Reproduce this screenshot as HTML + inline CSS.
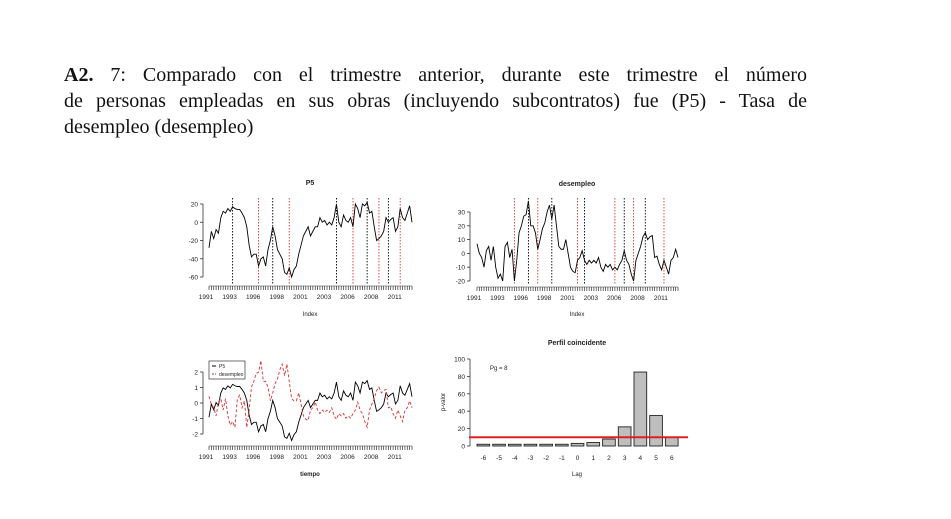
<!DOCTYPE html>
<html><head><meta charset="utf-8">
<style>
body{margin:0;width:951px;height:519px;background:#fff;overflow:hidden;position:relative;font-family:"Liberation Serif",serif;}
.ln{position:absolute;left:64px;width:743px;font-size:20px;line-height:26px;white-space:nowrap;color:#111;font-family:"Liberation Serif",serif;}
.j{text-align:justify;text-align-last:justify;}
svg{position:absolute;left:0;top:0;}
svg text{font-family:"Liberation Sans",sans-serif;fill:#222;}
</style></head><body>
<div class="ln j" style="top:62px"><b>A2.</b> 7: Comparado con el trimestre anterior, durante este trimestre el número</div>
<div class="ln j" style="top:88px">de personas empleadas en sus obras (incluyendo subcontratos) fue (P5) - Tasa de</div>
<div class="ln" style="top:114px">desempleo (desempleo)</div>
<svg id="s" width="951" height="519"></svg>
<script>
const p5=[-28,-10,-18,-8,-12,5,12,10,15,12,17,15,14,14,10,5,-5,-25,-38,-35,-35,-48,-40,-38,-48,-30,-20,-5,-15,-30,-35,-40,-55,-57,-50,-60,-52,-48,-35,-25,-15,-10,-5,-15,-10,-5,-5,5,0,2,-3,0,-3,5,20,0,-5,8,2,0,5,-5,20,15,5,20,18,22,10,12,-5,-20,-18,-15,-10,5,0,3,5,-10,-5,15,5,2,10,18,0];
const desem=[7,0,-3,-10,2,5,-5,5,-10,-18,-15,-20,5,8,-3,3,-20,-5,15,20,27,28,38,20,20,15,3,10,18,22,30,35,25,35,20,5,3,3,10,0,-10,-13,-14,-5,-3,2,-5,-8,-5,-7,-5,-7,-3,-10,-13,-8,-10,-8,-12,-10,-12,-8,-5,2,-5,-8,-15,-20,-5,0,5,12,15,10,12,13,-3,-2,-8,-12,-5,-10,-15,-5,-3,3,-3];
const yearLabels=["1991","1993","1996","1998","2001","2003","2006","2008","2011"];
const p5Black=[10,27,54,67,76];
const p5Red=[21,34,61,72,81];
const dBlack=[22,32,46,63,72];
const dRed=[16,26,43,59,67,80];
const lags=["-6","-5","-4","-3","-2","-1","0","1","2","3","4","5","6"];
const pvals=[2,2,2,2,2,2,3,4,8,22,85,35,10];
const pThreshold=10;

const S=document.getElementById('s');
const NS='http://www.w3.org/2000/svg';
function mk(t,a,txt){const e=document.createElementNS(NS,t);for(const k in a)e.setAttribute(k,a[k]);if(txt!==undefined)e.textContent=txt;S.appendChild(e);return e;}
function txt(x,y,s,o){o=o||{};const e=mk('text',{x:x,y:y,'font-size':o.fs||7,'text-anchor':o.a||'middle','font-weight':o.b?'bold':'normal'},s);if(o.rot)e.setAttribute('transform','rotate(-90 '+x+' '+y+')');return e;}

function timePanel(cfg){
  const n=cfg.series[0].length;
  const X=i=>cfg.x0+(cfg.x1-cfg.x0)*i/(n-1);
  const Y=v=>cfg.y0+(v-cfg.v0)*(cfg.y1-cfg.y0)/(cfg.v1-cfg.v0);
  let a=mk('line',{x1:cfg.ax,x2:cfg.ax,y1:Y(cfg.ticks[cfg.ticks.length-1]),y2:Y(cfg.ticks[0]),stroke:'#333','stroke-width':0.8});
  
  cfg.ticks.forEach(t=>{mk('line',{x1:cfg.ax-3,x2:cfg.ax,y1:Y(t),y2:Y(t),stroke:'#333','stroke-width':0.8});
    const l=txt(cfg.ax-5,Y(t)+2.5,String(t),{a:'end',fs:6.5});});
  const ty=cfg.tickY;
  mk('line',{x1:X(0),x2:X(n-1),y1:ty,y2:ty,stroke:'#333','stroke-width':0.6});
  for(let i=0;i<n;i++)mk('line',{x1:X(i),x2:X(i),y1:ty,y2:ty+4,stroke:'#333','stroke-width':0.7});
  const lx0=cfg.x0-3,lstep=(0.915*(cfg.x1-cfg.x0)+3)/8;
  yearLabels.forEach((s,k)=>{const l=txt(lx0+k*lstep,ty+13,s,{fs:6.5});});
  (cfg.vl||[]).forEach(v=>{v.idx.forEach(i=>{const l=mk('line',{x1:X(i),x2:X(i),y1:cfg.vt,y2:ty-2,stroke:v.c,'stroke-width':0.9,'stroke-dasharray':'1.5,1.5'});});});
  cfg.series.forEach((s,k)=>{const p=mk('polyline',{points:s.map((v,i)=>X(i)+','+Y(v)).join(' '),fill:'none',stroke:cfg.colors[k],'stroke-width':0.9,'stroke-dasharray':cfg.dash[k]});
    });
  if(cfg.title){const t=txt(cfg.tx,cfg.ty,cfg.title,{b:true,fs:7});}
  const xl=txt(cfg.tx,cfg.xly,cfg.xlab,{fs:6,b:cfg.xlb});
}
timePanel({name:'p5',series:[p5],colors:['#000'],dash:[''],x0:209,x1:412,v0:20,v1:-60,y0:204,y1:277,ax:203,ticks:[-60,-40,-20,0,20],tickY:286,
  vl:[{idx:p5Black,c:'#000'},{idx:p5Red,c:'#d33'}],vt:198,title:'P5',tx:310,ty:185,xlab:'Index',xly:316});
timePanel({name:'desempleo',series:[desem],colors:['#000'],dash:[''],x0:477,x1:678,v0:30,v1:-20,y0:212,y1:281,ax:470,ticks:[-20,-10,0,10,20,30],tickY:287,
  vl:[{idx:dBlack,c:'#000'},{idx:dRed,c:'#d33'}],vt:198,title:'desempleo',tx:577,ty:186,xlab:'Index',xly:316});
function z(a){const m=a.reduce((s,v)=>s+v,0)/a.length;const sd=Math.sqrt(a.reduce((s,v)=>s+(v-m)*(v-m),0)/(a.length-1));return a.map(v=>(v-m)/sd);}
timePanel({name:'combined',series:[z(p5),z(desem)],colors:['#000','#d33'],dash:['','3,2'],x0:209,x1:412,v0:2,v1:-2,y0:372,y1:434,ax:203,ticks:[-2,-1,0,1,2],tickY:446,
  vl:[],vt:0,title:'',tx:310,ty:0,xlab:'tiempo',xly:476,xlb:true});
let lg=mk('rect',{x:209,y:361,width:36,height:18,fill:'#fff',stroke:'#333','stroke-width':0.7});
mk('line',{x1:212,x2:216,y1:366,y2:366,stroke:'#000'});let l1=txt(219,368,'P5',{a:'start',fs:5});
mk('line',{x1:212,x2:216,y1:374,y2:374,stroke:'#d33','stroke-dasharray':'2,1'});let l2=txt(219,376,'desempleo',{a:'start',fs:5});

(function(){
  const Y=v=>446-v*0.87;const pitch=15.7,bw=12.7,bx0=477;
  const ya=mk('line',{x1:470,x2:470,y1:Y(0),y2:Y(100),stroke:'#333','stroke-width':0.8});
  
  
  [0,20,40,60,80,100].forEach(t=>{mk('line',{x1:467,x2:470,y1:Y(t),y2:Y(t),stroke:'#333','stroke-width':0.8});
    const l=txt(465,Y(t)+2.5,String(t),{a:'end',fs:6.5});});
  pvals.forEach((v,i)=>{const x=bx0+i*pitch;const r=mk('rect',{x:x,y:Y(v),width:bw,height:Y(0)-Y(v),fill:'#bebebe',stroke:'#222','stroke-width':0.9});
    
    const l=txt(x+bw/2,460,lags[i],{fs:6.5});});
  const th=mk('line',{x1:469,x2:688,y1:Y(pThreshold),y2:Y(pThreshold),stroke:'#e02020','stroke-width':2});
  let t=txt(577,345,'Perfil coincidente',{b:true,fs:7});
  t=txt(577,476,'Lag',{fs:6});
  t=txt(445,402,'p-valor',{fs:6,rot:true});
  t=txt(490,370,'Pg = 8',{a:'start',fs:6});
})();
</script>
</body></html>
